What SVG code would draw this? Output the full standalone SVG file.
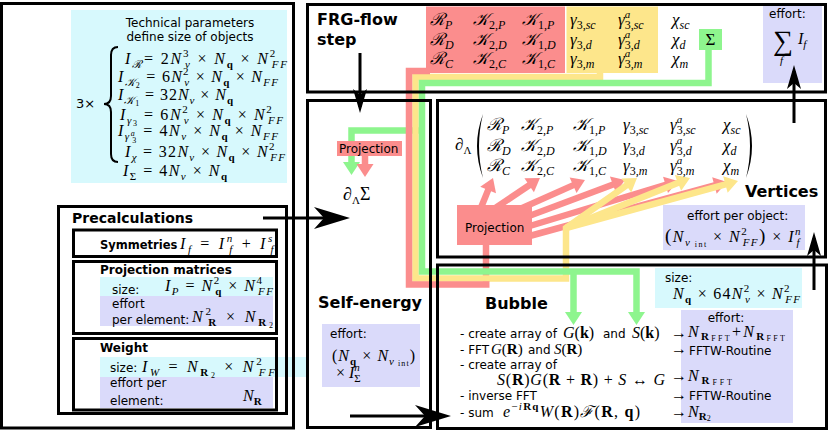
<svg xmlns="http://www.w3.org/2000/svg" width="830" height="433" viewBox="0 0 830 433">
<defs>
<style>
.bx{fill:none;stroke:#000;stroke-width:3}
.t{font-family:"DejaVu Sans",sans-serif;font-size:12px;fill:#000}
.h{font-family:"DejaVu Sans",sans-serif;font-weight:bold;fill:#000}
.m{font-family:"Liberation Serif","DejaVu Serif",serif;font-style:italic;font-size:16px;fill:#000}
.M{font-size:17px}
.s{font-size:11px}
.ss{font-size:12px}
.xs{font-size:8px}
.n{font-style:normal}
.bf{font-style:normal;font-weight:bold}
.cy{fill:#d7f9fd}
.lv{fill:#dadafa}
.rd{fill:#fb8d8d}
.ye{fill:#fde68b}
.gr{fill:#8ef58e}
.pr{fill:none;stroke:#fb8d8d;stroke-width:6.5}
.py{fill:none;stroke:#fde68b;stroke-width:6.5}
.pg{fill:none;stroke:#8ef58e;stroke-width:6.5}
.ar{fill:none;stroke:#000;stroke-width:3}
</style>
<marker id="ab" markerUnits="userSpaceOnUse" viewBox="-30 -12 40 24" markerWidth="40" markerHeight="24" refX="0" refY="0" orient="auto"><path d="M8,0 L-28,-11 L-18,0 L-28,11 z" fill="#000"/></marker>
<marker id="as" markerUnits="userSpaceOnUse" viewBox="-20 -8 28 16" markerWidth="28" markerHeight="16" refX="0" refY="0" orient="auto"><path d="M6,0 L-18,-7 L-12,0 L-18,7 z" fill="#000"/></marker>
<marker id="mr" markerUnits="userSpaceOnUse" viewBox="-2 -10 16 20" markerWidth="16" markerHeight="20" refX="0" refY="0" orient="auto"><path d="M12,0 L-1,-8.5 L-1,8.5 z" fill="#fb8d8d"/></marker>
<marker id="my" markerUnits="userSpaceOnUse" viewBox="-2 -10 16 20" markerWidth="16" markerHeight="20" refX="0" refY="0" orient="auto"><path d="M12,0 L-1,-8.5 L-1,8.5 z" fill="#fde68b"/></marker>
<marker id="mg" markerUnits="userSpaceOnUse" viewBox="-2 -10 16 20" markerWidth="16" markerHeight="20" refX="0" refY="0" orient="auto"><path d="M12,0 L-1,-8.5 L-1,8.5 z" fill="#8ef58e"/></marker>
</defs>
<rect width="830" height="433" fill="#fff"/>

<g id="connectors-flow">
<path class="pr" d="M486,244 V282"/>
<path class="pr" d="M478,215 L488.5,189.1" marker-end="url(#mr)"/>
<path class="pr" d="M485,215 L530,184.7" marker-end="url(#mr)"/>
<path class="pr" d="M495,220 L574,184.9" marker-end="url(#mr)"/>
<path class="pr" d="M505,225 L613.8,184.2" marker-end="url(#mr)"/>
<path class="pr" d="M510,232 L666.5,184.5" marker-end="url(#mr)"/>
<path class="pr" d="M515,240 L715.4,185.2" marker-end="url(#mr)"/>
<path class="pg" d="M420,130.5 H351.5 V163" marker-end="url(#mg)"/>
<path class="pr" d="M365,155 V165" marker-end="url(#mr)"/>
<path class="py" d="M600,72 V77 H415.5 V278.5 H566 V228 L627.2,184.9" marker-end="url(#my)"/>
<path class="py" d="M566,228 L678.9,182.5" marker-end="url(#my)"/>
<path class="py" d="M566,228 L726.4,184.2" marker-end="url(#my)"/>
<path class="pg" d="M708.5,49 V83 H422 V271.5 H636.5 V313" marker-end="url(#mg)"/>
<path class="pg" d="M573.5,271.5 V313" marker-end="url(#mg)"/>
<path class="pr" d="M430,71 H409 V284.5 H489.5"/>
</g>

<g id="weight">
<rect class="cy" x="100" y="357" width="206" height="20"/>
<rect class="lv" x="100" y="377" width="173" height="31"/>
<rect class="bx" x="73.5" y="338.5" width="203" height="71.5"/>
<text class="h" x="100" y="352" style="font-size:12px">Weight</text>
<text class="t" x="110" y="372">size:</text>
<text class="m" x="142" y="372" textLength="133" lengthAdjust="spacing">I<tspan class="s" dy="4">W</tspan><tspan class="n" dy="-4"> = </tspan>N<tspan class="s bf" dy="4">R</tspan><tspan class="xs n" dy="2">2</tspan><tspan class="n" dy="-6"> × </tspan>N<tspan class="s n" dy="-7">2</tspan><tspan class="s" dx="-5.5" dy="11">FF</tspan></text>
<text class="t" x="110" y="387">effort per</text>
<text class="t" x="110" y="405">element:</text>
<text class="m" x="243" y="401">N<tspan class="s bf" dy="4">R</tspan></text>
</g>

<g id="projection-matrices">
<rect class="cy" x="100" y="277" width="173" height="19"/>
<rect class="lv" x="100" y="296" width="173" height="30"/>
<rect class="bx" x="73.5" y="261.5" width="203" height="72"/>
<text class="h" x="100" y="274" style="font-size:12px">Projection matrices</text>
<text class="t" x="112" y="294">size:</text>
<text class="m" x="165" y="291" textLength="108" lengthAdjust="spacing">I<tspan class="s" dy="4">P</tspan><tspan class="n" dy="-4"> = </tspan>N<tspan class="s n" dy="-7">2</tspan><tspan class="s bf" dx="-5.5" dy="11">q</tspan><tspan class="n" dy="-4"> × </tspan>N<tspan class="s n" dy="-7">4</tspan><tspan class="s" dx="-5.5" dy="11">FF</tspan></text>
<text class="t" x="112" y="308">effort</text>
<text class="t" x="112" y="324">per element:</text>
<text class="m" x="192" y="322" textLength="81" lengthAdjust="spacing">N<tspan class="s n" dy="-7">2</tspan><tspan class="s bf" dx="-5.5" dy="11">R</tspan><tspan class="n" dy="-4"> × </tspan>N<tspan class="s bf" dy="4">R</tspan><tspan class="xs n" dy="2">2</tspan></text>
</g>

<g id="symmetries">
<rect class="bx" x="73.5" y="230" width="203" height="26.5"/>
<text class="h" x="100" y="249" style="font-size:11.5px">Symmetries</text>
<text class="m" x="180" y="249" textLength="95" lengthAdjust="spacing">I<tspan class="s" dy="4">f</tspan><tspan class="n" dy="-4"> = </tspan>I<tspan class="s" dy="-7">n</tspan><tspan class="s" dx="-5.5" dy="11">f</tspan><tspan class="n" dy="-4"> + </tspan>I<tspan class="s" dy="-7">s</tspan><tspan class="s" dx="-4.5" dy="11">f</tspan></text>
</g>

<g id="precalculations">
<rect class="bx" x="58.5" y="206.5" width="228" height="207"/>
<text class="h" x="72" y="223" style="font-size:14px">Precalculations</text>
</g>

<g id="technical-parameters">
<rect class="cy" x="71" y="10" width="216" height="173"/>
<text class="t" x="190" y="27" text-anchor="middle">Technical parameters</text>
<text class="t" x="190" y="41" text-anchor="middle">define size of objects</text>
<text class="t" x="76" y="108" style="font-size:13px">3×</text>
<path d="M118,47 Q111,47 111,55 L111,96 Q111,104 104,104 Q111,104 111,112 L111,154 Q111,162 118,162" fill="none" stroke="#000" stroke-width="2"/>
<text class="m" x="125" y="64" textLength="162" lengthAdjust="spacing">I<tspan class="s" dy="4">ℛ</tspan><tspan class="n" dy="-4">= 2</tspan>N<tspan class="s n" dy="-7">3</tspan><tspan class="s" dx="-5.5" dy="11">ν</tspan><tspan class="n" dy="-4"> × </tspan>N<tspan class="s bf" dy="4">q</tspan><tspan class="n" dy="-4"> × </tspan>N<tspan class="s n" dy="-7">2</tspan><tspan class="s" dx="-5.5" dy="11">FF</tspan></text>
<text class="m" x="118" y="82" textLength="160" lengthAdjust="spacing">I<tspan class="s" dy="4">𝒦</tspan><tspan class="xs n" dy="2">2</tspan><tspan class="n" dy="-6"> = 6</tspan>N<tspan class="s n" dy="-7">2</tspan><tspan class="s" dx="-5.5" dy="11">ν</tspan><tspan class="n" dy="-4"> × </tspan>N<tspan class="s bf" dy="4">q</tspan><tspan class="n" dy="-4"> × </tspan>N<tspan class="s" dy="4">FF</tspan></text>
<text class="m" x="118" y="100" textLength="115" lengthAdjust="spacing">I<tspan class="s" dy="4">𝒦</tspan><tspan class="xs n" dy="2">1</tspan><tspan class="n" dy="-6"> = 32</tspan>N<tspan class="s" dy="4">ν</tspan><tspan class="n" dy="-4"> × </tspan>N<tspan class="s bf" dy="4">q</tspan></text>
<text class="m" x="120" y="120" textLength="163" lengthAdjust="spacing">I<tspan class="s" dy="4">γ</tspan><tspan class="xs n" dy="2">3</tspan><tspan class="n" dy="-6"> = 6</tspan>N<tspan class="s n" dy="-7">2</tspan><tspan class="s" dx="-5.5" dy="11">ν</tspan><tspan class="n" dy="-4"> × </tspan>N<tspan class="s bf" dy="4">q</tspan><tspan class="n" dy="-4"> × </tspan>N<tspan class="s n" dy="-7">2</tspan><tspan class="s" dx="-5.5" dy="11">FF</tspan></text>
<text class="m" x="118" y="136" textLength="160" lengthAdjust="spacing">I<tspan class="s" dy="4">γ</tspan><tspan class="xs" dy="-4">a</tspan><tspan class="xs n" dx="-4" dy="7">3</tspan><tspan class="n" dy="-7"> = 4</tspan>N<tspan class="s" dy="4">ν</tspan><tspan class="n" dy="-4"> × </tspan>N<tspan class="s bf" dy="4">q</tspan><tspan class="n" dy="-4"> × </tspan>N<tspan class="s" dy="4">FF</tspan></text>
<text class="m" x="125" y="157" textLength="160" lengthAdjust="spacing">I<tspan class="s" dy="4">χ</tspan><tspan class="n" dy="-4"> = 32</tspan>N<tspan class="s" dy="4">ν</tspan><tspan class="n" dy="-4"> × </tspan>N<tspan class="s bf" dy="4">q</tspan><tspan class="n" dy="-4"> × </tspan>N<tspan class="s n" dy="-7">2</tspan><tspan class="s" dx="-5.5" dy="11">FF</tspan></text>
<text class="m" x="123" y="176" textLength="104" lengthAdjust="spacing">I<tspan class="s n" dy="4">Σ</tspan><tspan class="n" dy="-4"> = 4</tspan>N<tspan class="s" dy="4">ν</tspan><tspan class="n" dy="-4"> × </tspan>N<tspan class="s bf" dy="4">q</tspan></text>
<rect class="bx" x="1.5" y="3.5" width="292" height="424.5"/>
</g>

<g id="frg-flow-step">
<rect class="bx" x="307.5" y="4.5" width="518" height="87.5"/>
<text class="h" x="317" y="25" style="font-size:16px">FRG-flow</text>
<text class="h" x="317" y="45" style="font-size:16px">step</text>
</g>

<g id="frg-objects-rk">
<rect class="rd" x="426" y="6.5" width="139" height="66.5"/>
<text class="m M" x="430" y="25">ℛ<tspan class="ss" dy="4">P</tspan></text>
<text class="m M" x="473" y="25">𝒦<tspan class="ss" dy="4"><tspan class="n">2,</tspan>P</tspan></text>
<text class="m M" x="522" y="25">𝒦<tspan class="ss" dy="4"><tspan class="n">1,</tspan>P</tspan></text>
<text class="m M" x="430" y="45">ℛ<tspan class="ss" dy="4">D</tspan></text>
<text class="m M" x="473" y="45">𝒦<tspan class="ss" dy="4"><tspan class="n">2,</tspan>D</tspan></text>
<text class="m M" x="522" y="45">𝒦<tspan class="ss" dy="4"><tspan class="n">1,</tspan>D</tspan></text>
<text class="m M" x="430" y="64">ℛ<tspan class="ss" dy="4">C</tspan></text>
<text class="m M" x="473" y="64">𝒦<tspan class="ss" dy="4"><tspan class="n">2,</tspan>C</tspan></text>
<text class="m M" x="522" y="64">𝒦<tspan class="ss" dy="4"><tspan class="n">1,</tspan>C</tspan></text>
</g>

<g id="frg-objects-gamma">
<rect class="ye" x="566.5" y="6.5" width="91.5" height="66.5"/>
<text class="m M" x="570" y="25">γ<tspan class="ss n" dy="4">3,</tspan><tspan class="ss">sc</tspan></text>
<text class="m M" x="618" y="25">γ<tspan class="s" dy="-7">a</tspan><tspan class="ss n" dx="-5.5" dy="11">3,</tspan><tspan class="ss">sc</tspan></text>
<text class="m M" x="570" y="45">γ<tspan class="ss n" dy="4">3,</tspan><tspan class="ss">d</tspan></text>
<text class="m M" x="618" y="45">γ<tspan class="s" dy="-7">a</tspan><tspan class="ss n" dx="-5.5" dy="11">3,</tspan><tspan class="ss">d</tspan></text>
<text class="m M" x="570" y="64">γ<tspan class="ss n" dy="4">3,</tspan><tspan class="ss">m</tspan></text>
<text class="m M" x="618" y="64">γ<tspan class="s" dy="-7">a</tspan><tspan class="ss n" dx="-5.5" dy="11">3,</tspan><tspan class="ss">m</tspan></text>
</g>

<g id="frg-objects-chi">
<text class="m M" x="672" y="25">χ<tspan class="ss" dy="4">sc</tspan></text>
<text class="m M" x="672" y="45">χ<tspan class="ss" dy="4">d</tspan></text>
<text class="m M" x="672" y="64">χ<tspan class="ss" dy="4">m</tspan></text>
</g>

<g id="frg-sigma">
<rect class="gr" x="699" y="29" width="23" height="21"/>
<text class="m M n" x="710.5" y="45" text-anchor="middle">Σ</text>
</g>

<g id="frg-effort">
<rect class="lv" x="763" y="6" width="59" height="77"/>
<text class="t" x="769" y="18">effort:</text>
<text class="m n" x="773" y="50" style="font-size:28px">∑</text>
<text class="m" x="798" y="44">I<tspan class="s" dy="4">f</tspan></text>
<text class="m s" x="780" y="64">f</text>
</g>

<g id="self-energy">
<rect class="bx" x="307.5" y="100.5" width="123" height="327"/>
<rect class="rd" x="337" y="141" width="65" height="15"/>
<text class="t" x="339" y="153">Projection</text>
<text class="m" x="343" y="200" style="font-size:18px">∂<tspan class="s n" dy="4">Λ</tspan><tspan class="n" dy="-4">Σ</tspan></text>
<text class="h" x="318" y="308" style="font-size:16px">Self-energy</text>
<rect class="lv" x="322" y="324" width="98" height="63"/>
<text class="t" x="330" y="338">effort:</text>
<text class="m" x="332" y="361" textLength="83" lengthAdjust="spacing"><tspan class="n">(</tspan>N<tspan class="s bf" dy="4">q</tspan><tspan class="n" dy="-4"> × </tspan>N<tspan class="s" dy="4">ν</tspan><tspan class="xs n" dy="1"> int</tspan><tspan class="n" dy="-5">)</tspan></text>
<text class="m" x="336" y="378"><tspan class="n">× </tspan>I<tspan class="s" dy="-7">n</tspan><tspan class="s n" dx="-5.5" dy="11">Σ</tspan></text>
</g>

<g id="vertices">
<rect class="bx" x="437.5" y="100.5" width="388" height="156.5"/>
<text class="m M" x="455" y="150">∂<tspan class="s n" dy="4">Λ</tspan></text>
<path d="M483,114 Q471,146 483,178 Q475,146 483,114 Z" fill="#000"/>
<path d="M746,114 Q758,146 746,178 Q754,146 746,114 Z" fill="#000"/>
<text class="m M" x="487" y="130">ℛ<tspan class="ss" dy="4">P</tspan></text>
<text class="m M" x="521" y="130">𝒦<tspan class="ss" dy="4"><tspan class="n">2,</tspan>P</tspan></text>
<text class="m M" x="573" y="130">𝒦<tspan class="ss" dy="4"><tspan class="n">1,</tspan>P</tspan></text>
<text class="m M" x="623" y="130">γ<tspan class="ss n" dy="4">3,</tspan><tspan class="ss">sc</tspan></text>
<text class="m M" x="670" y="130">γ<tspan class="s" dy="-7">a</tspan><tspan class="ss n" dx="-5.5" dy="11">3,</tspan><tspan class="ss">sc</tspan></text>
<text class="m M" x="723" y="130">χ<tspan class="ss" dy="4">sc</tspan></text>
<text class="m M" x="487" y="150.5">ℛ<tspan class="ss" dy="4">D</tspan></text>
<text class="m M" x="521" y="150.5">𝒦<tspan class="ss" dy="4"><tspan class="n">2,</tspan>D</tspan></text>
<text class="m M" x="573" y="150.5">𝒦<tspan class="ss" dy="4"><tspan class="n">1,</tspan>D</tspan></text>
<text class="m M" x="623" y="150.5">γ<tspan class="ss n" dy="4">3,</tspan><tspan class="ss">d</tspan></text>
<text class="m M" x="670" y="150.5">γ<tspan class="s" dy="-7">a</tspan><tspan class="ss n" dx="-5.5" dy="11">3,</tspan><tspan class="ss">d</tspan></text>
<text class="m M" x="723" y="150.5">χ<tspan class="ss" dy="4">d</tspan></text>
<text class="m M" x="487" y="171">ℛ<tspan class="ss" dy="4">C</tspan></text>
<text class="m M" x="521" y="171">𝒦<tspan class="ss" dy="4"><tspan class="n">2,</tspan>C</tspan></text>
<text class="m M" x="573" y="171">𝒦<tspan class="ss" dy="4"><tspan class="n">1,</tspan>C</tspan></text>
<text class="m M" x="623" y="171">γ<tspan class="ss n" dy="4">3,</tspan><tspan class="ss">m</tspan></text>
<text class="m M" x="670" y="171">γ<tspan class="s" dy="-7">a</tspan><tspan class="ss n" dx="-5.5" dy="11">3,</tspan><tspan class="ss">m</tspan></text>
<text class="m M" x="723" y="171">χ<tspan class="ss" dy="4">m</tspan></text>
<text class="h" x="745" y="197" style="font-size:16px">Vertices</text>
<rect class="lv" x="663" y="205" width="142" height="45"/>
<text class="t" x="687" y="220">effort per object:</text>
<text class="m" x="665" y="242" textLength="137" lengthAdjust="spacing"><tspan class="n" style="font-size:19px">(</tspan>N<tspan class="s" dy="4">ν</tspan><tspan class="xs n" dy="1"> int</tspan><tspan class="n" dy="-5"> × </tspan>N<tspan class="s n" dy="-7">2</tspan><tspan class="s" dx="-5.5" dy="11">FF</tspan><tspan class="n" dy="-4" style="font-size:19px">)</tspan><tspan class="n"> × </tspan>I<tspan class="s" dy="-7">n</tspan><tspan class="s" dx="-5.5" dy="11">f</tspan></text>
</g>

<g id="vertex-projection">
<rect class="rd" x="457" y="205" width="75" height="40"/>
<text class="t" x="465" y="232">Projection</text>
</g>

<g id="bubble">
<rect class="bx" x="437.5" y="265" width="389" height="163.5"/>
<text class="h" x="485" y="309" style="font-size:16px">Bubble</text>
<rect class="cy" x="655" y="268" width="147" height="40"/>
<text class="t" x="665" y="282">size:</text>
<text class="m" x="673" y="299" textLength="127" lengthAdjust="spacing">N<tspan class="s bf" dy="4">q</tspan><tspan class="n" dy="-4"> × 64</tspan>N<tspan class="s n" dy="-7">2</tspan><tspan class="s" dx="-5.5" dy="11">ν</tspan><tspan class="n" dy="-4"> × </tspan>N<tspan class="s n" dy="-7">2</tspan><tspan class="s" dx="-5.5" dy="11">FF</tspan></text>
<rect class="lv" x="681" y="310" width="112" height="113"/>
<text class="t" x="726" y="322" text-anchor="middle">effort:</text>
<text class="t" x="460" y="338">- create array of</text>
<text class="m" x="563" y="338">G<tspan class="n">(</tspan><tspan class="bf">k</tspan><tspan class="n">)</tspan></text>
<text class="t" x="603" y="338">and</text>
<text class="m" x="632" y="338">S<tspan class="n">(</tspan><tspan class="bf">k</tspan><tspan class="n">)</tspan></text>
<text class="t" x="460" y="354">- FFT</text>
<text class="m" x="491" y="354" style="font-size:15px">G<tspan class="n">(</tspan><tspan class="bf">R</tspan><tspan class="n">)</tspan></text>
<text class="t" x="528" y="354">and</text>
<text class="m" x="554" y="354" style="font-size:15px">S<tspan class="n">(</tspan><tspan class="bf">R</tspan><tspan class="n">)</tspan></text>
<text class="t" x="460" y="369">- create array of</text>
<text class="m" x="497" y="385" textLength="168" lengthAdjust="spacing">S<tspan class="n">(</tspan><tspan class="bf">R</tspan><tspan class="n">)</tspan>G<tspan class="n">(</tspan><tspan class="bf">R</tspan><tspan class="n"> + </tspan><tspan class="bf">R</tspan><tspan class="n">) + </tspan>S<tspan class="n"> ↔ </tspan>G</text>
<text class="t" x="460" y="400">- inverse FFT</text>
<text class="t" x="460" y="417">- sum</text>
<text class="m" x="503" y="417" textLength="137" lengthAdjust="spacing">e<tspan class="s n" dy="-7">−</tspan><tspan class="s">i</tspan><tspan class="s bf">Rq</tspan><tspan dy="7">W</tspan><tspan class="n">(</tspan><tspan class="bf">R</tspan><tspan class="n">)</tspan>ℱ<tspan class="n">(</tspan><tspan class="bf">R</tspan><tspan class="n">, </tspan><tspan class="bf">q</tspan><tspan class="n">)</tspan></text>
<text class="m n" x="671" y="338">→</text>
<text class="m" x="688" y="337" textLength="97" lengthAdjust="spacing">N<tspan class="s bf" dy="3">R</tspan><tspan class="xs n" dy="1">FFT</tspan><tspan class="n" dy="-4">+</tspan>N<tspan class="s bf" dy="3">R</tspan><tspan class="xs n" dy="1">FFT</tspan></text>
<text class="m n" x="671" y="354">→</text>
<text class="t" x="689" y="355">FFTW-Routine</text>
<text class="m n" x="671" y="381">→</text>
<text class="m" x="688" y="381" textLength="44" lengthAdjust="spacing">N<tspan class="s bf" dy="3">R</tspan><tspan class="xs n" dy="1">FFT</tspan></text>
<text class="m n" x="671" y="400">→</text>
<text class="t" x="689" y="400">FFTW-Routine</text>
<text class="m n" x="671" y="417">→</text>
<text class="m" x="688" y="417">N<tspan class="s bf" dy="3">R</tspan><tspan class="xs n" dy="1">2</tspan></text>
</g>

<g id="connectors">
<path class="ar" d="M360,53 V107" marker-end="url(#as)"/>
<path class="ar" d="M263,218 H342" marker-end="url(#ab)"/>
<path class="ar" d="M350,416 H443" marker-end="url(#ab)"/>
<path class="ar" d="M814,290 V238" marker-end="url(#as)"/>
<path class="ar" d="M794,123 V71" marker-end="url(#as)"/>
</g>
</svg>
